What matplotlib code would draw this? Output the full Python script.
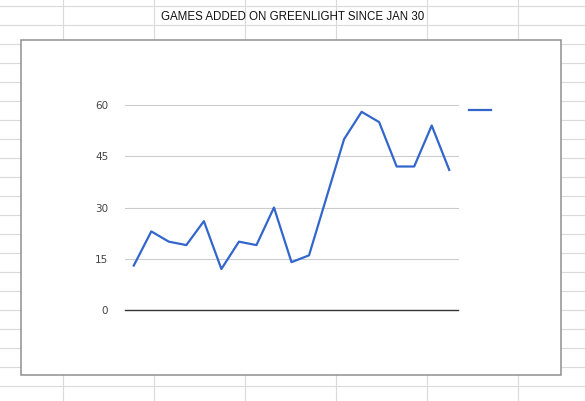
import matplotlib
matplotlib.use("Agg")
import matplotlib.pyplot as plt
from matplotlib.lines import Line2D
from matplotlib.patches import Rectangle

# Data
days = list(range(19))
games_added = [13, 23, 20, 19, 26, 12, 20, 19, 30, 14, 16, 33, 50, 58, 55, 42, 42, 54, 41]
y_ticks = [0, 15, 30, 45, 60]
title = "GAMES ADDED ON GREENLIGHT SINCE JAN 30"

W, H = 585, 401
fig = plt.figure(figsize=(W / 100, H / 100), dpi=100)
fig.patch.set_facecolor("white")


def fx(px):
    return px / W


def fy(py):
    return 1 - py / H


# spreadsheet grid behind the chart
grid_col = "#dadada"
for k in range(21):
    y = fy(6.3 + 19 * k)
    fig.add_artist(Line2D([0, 1], [y, y], color=grid_col, lw=0.8, zorder=0))
for k in range(6):
    x = fx(63.3 + 91 * k)
    fig.add_artist(Line2D([x, x], [0, 1], color=grid_col, lw=0.8, zorder=0))

# title cell text
fig.text(fx(293), fy(17.5), title, ha="center", va="center", fontsize=8.3,
         family=["Liberation Sans Narrow", "Liberation Sans", "DejaVu Sans"],
         color="#111111", zorder=3)

# chart box
fig.add_artist(Rectangle((fx(20.7), fy(375)), fx(561 - 20.7), (375 - 40.3) / H,
                         facecolor="white", edgecolor="#8f8f8f", lw=1.1, zorder=1))

# plot area
left, right, top, bottom = 125, 458, 105, 310
ax = fig.add_axes([fx(left), fy(bottom), fx(right - left), (bottom - top) / H], zorder=2)
ax.set_facecolor("none")
line, = ax.plot(days, games_added, color="#3366cc", lw=1.6, clip_on=False, zorder=3)
ax.set_xlim(-0.5, len(days) - 0.5)
ax.set_ylim(0, 60)
ax.set_yticks(y_ticks)
for t in y_ticks[1:]:
    ax.axhline(t, color="#cccccc", lw=0.8, zorder=1, clip_on=False)
ax.axhline(0, color="#333333", lw=1.0, zorder=2, clip_on=False)
ax.set_xticks([])
ax.tick_params(axis="y", length=0, pad=12, labelsize=7.5, labelcolor="#444444")
for s in ax.spines.values():
    s.set_visible(False)

ax.legend([line], [""], loc="center left", bbox_to_anchor=(fx(469.3), fy(110.3)),
          bbox_transform=fig.transFigure, frameon=False, borderpad=0,
          borderaxespad=0, handlelength=2.1, fontsize=7.5)

fig.savefig("out.png", dpi=100, facecolor="white")
